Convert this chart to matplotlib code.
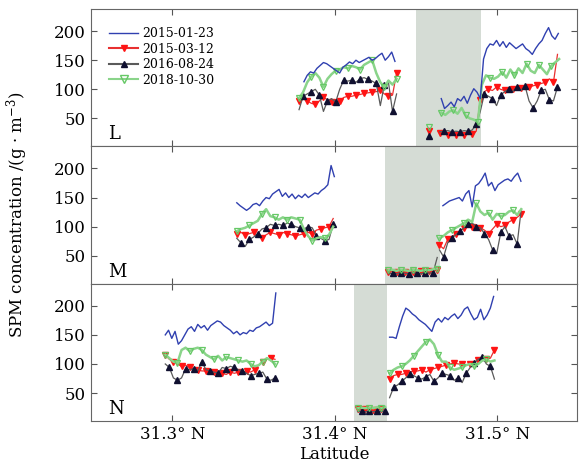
#!/usr/bin/env python

import numpy as np
import matplotlib
matplotlib.use("Agg")
import matplotlib.pyplot as plt

plt.rcParams["font.family"] = ["DejaVu Serif"]
plt.rcParams["mathtext.fontset"] = "dejavuserif"

panel_names = ["L", "M", "N"]
dates = ["2015-01-23", "2015-03-12", "2016-08-24", "2018-10-30"]
lat_ticks = [31.3, 31.4, 31.5]
spm_ticks = [50, 100, 150, 200]

# grey stretches (latitude)
shade_L = (31.450, 31.490)
shade_M = (31.431, 31.465)
shade_N = (31.412, 31.432)

# ---- section L ----
L1_blue_lat = (31.381, 31.437)
L1_blue = [113, 124, 130, 128, 136, 141, 146, 144, 140, 136, 132, 128, 138, 142, 147,
           144, 150, 146, 149, 152, 155, 150, 153, 158, 162, 150, 156, 164, 148]
L1_lat = (31.378, 31.438)
L1_red = [80, 84, 80, 76, 74, 80, 86, 82, 78, 76, 80, 86, 88, 88, 90, 91, 93, 94, 95, 96,
          98, 92, 88, 90, 128]
L1_black = [65, 88, 92, 96, 100, 90, 62, 80, 84, 78, 100, 116, 114, 116, 112, 118, 120,
            117, 114, 110, 72, 108, 112, 62, 92]
L1_green = [85, 95, 112, 122, 128, 120, 104, 118, 126, 132, 134, 138, 136, 140, 138, 134,
            142, 146, 150, 128, 112, 104, 115, 108, 118]

L_dot_lat = [31.458]
L_dot_red = [28]
L_dot_black = [20]
L_dot_green = [35]

L2_blue_lat = (31.4655, 31.5375)
L2_blue = [84, 67, 72, 78, 70, 84, 80, 88, 76, 90, 101, 95, 84, 152, 170, 178, 176, 184,
           174, 182, 172, 180, 175, 170, 174, 178, 170, 166, 160, 170, 178, 184, 196, 206,
           192, 186, 196]
L2_lat = (31.4645, 31.537)
L2_red = [25, 24, 22, 24, 22, 23, 21, 23, 24, 28, 82, 96, 100, 98, 104, 100, 98, 102, 100,
          104, 102, 106, 104, 106, 108, 110, 112, 118, 112, 160]
L2_black = [27, 28, 29, 27, 28, 27, 29, 28, 30, 40, 62, 92, 88, 84, 72, 90, 96, 100, 96,
            104, 98, 106, 80, 68, 80, 98, 100, 82, 80, 104]
L2_green_lat = (31.4655, 31.538)
L2_green = [60, 56, 62, 64, 58, 68, 55, 50, 48, 44, 108, 124, 120, 118, 122, 130, 120, 134,
            124, 136, 128, 144, 132, 128, 142, 134, 126, 140, 146, 152]

# ---- section M ----
M1_blue_lat = (31.3397, 31.3997)
M1_blue = [141, 136, 132, 128, 132, 138, 140, 136, 144, 150, 148, 156, 160, 164, 152, 158,
           150, 156, 148, 154, 150, 156, 150, 154, 158, 156, 162, 166, 172, 205, 186]
M1_lat = (31.3397, 31.399)
M1_red = [88, 90, 86, 88, 90, 84, 80, 86, 90, 88, 86, 90, 88, 86, 84, 86, 88, 90, 88, 94,
          96, 98, 100, 114]
M1_black = [80, 72, 66, 78, 82, 88, 96, 98, 104, 102, 104, 102, 106, 104, 100, 98, 96, 100,
            98, 84, 80, 76, 78, 104]
M1_green = [92, 96, 98, 102, 106, 110, 122, 130, 118, 116, 112, 116, 112, 116, 114, 112,
            96, 84, 76, 80, 82, 80, 86, 100]

M_mid_lat = (31.433, 31.463)
M_mid_red = [22, 23, 22, 24, 22, 23, 22, 24, 23, 22, 24, 23, 26]
M_mid_black = [19, 20, 19, 21, 20, 19, 21, 20, 19, 21, 20, 21, 47]
M_mid_green = [25, 26, 24, 26, 25, 24, 26, 25, 24, 26, 25, 27, 28]

M2_blue_lat = (31.4665, 31.5145)
M2_blue = [136, 140, 144, 146, 148, 150, 144, 156, 162, 134, 170, 174, 182, 192, 170, 176,
           162, 172, 176, 180, 182, 178, 186, 192, 178]
M2_lat = (31.4644, 31.5147)
M2_red = [68, 62, 78, 82, 88, 92, 98, 100, 100, 102, 98, 94, 88, 96, 104, 100, 102, 108,
          112, 116, 122]
M2_black = [60, 48, 72, 80, 86, 92, 98, 104, 106, 100, 98, 88, 78, 60, 54, 90, 100, 84, 86,
            70, 130]
M2_green = [80, 84, 90, 94, 98, 102, 106, 112, 108, 140, 126, 120, 124, 112, 122, 118, 120,
            126, 128, 120, 130]

# ---- section N ----
N1_blue_lat = (31.2957, 31.3637)
N1_blue = [150, 158, 144, 156, 134, 140, 150, 160, 164, 156, 168, 162, 166, 158, 166, 170,
           174, 172, 166, 162, 158, 152, 156, 150, 154, 152, 158, 156, 162, 164, 168, 172,
           166, 170, 222]
N1_lat = (31.2957, 31.3632)
N1_red = [116, 108, 104, 100, 96, 98, 94, 92, 90, 88, 88, 86, 86, 84, 84, 82, 86, 84, 86,
          84, 88, 86, 90, 98, 104, 108, 110, 108]
N1_black = [100, 94, 76, 72, 76, 92, 90, 92, 88, 104, 90, 88, 86, 84, 94, 92, 96, 94, 90,
            88, 84, 80, 82, 84, 86, 74, 72, 76]
N1_green = [116, 110, 104, 102, 124, 128, 122, 126, 128, 124, 116, 112, 108, 114, 106, 112,
            110, 108, 106, 104, 106, 100, 96, 98, 104, 110, 106, 100]

N_mid_lat = (31.414, 31.431)
N_mid_red = [22, 21, 23, 22, 21, 23, 22, 24]
N_mid_black = [18, 19, 18, 19, 18, 19, 18, 20]
N_mid_green = [24, 25, 24, 25, 24, 26, 24, 26]

N2_blue_lat = (31.4337, 31.4977)
N2_blue = [146, 146, 144, 164, 182, 196, 192, 186, 182, 176, 172, 168, 162, 156, 172, 178,
           172, 180, 176, 182, 186, 178, 184, 194, 198, 186, 176, 180, 194, 176, 184, 196, 216]
N2_lat = (31.4337, 31.4982)
N2_red = [74, 80, 82, 82, 84, 86, 88, 88, 90, 86, 90, 92, 94, 96, 98, 100, 102, 100, 100,
          98, 100, 104, 106, 110, 108, 110, 124]
N2_black = [42, 60, 64, 70, 76, 82, 80, 76, 74, 78, 82, 70, 76, 84, 82, 80, 72, 76, 68, 84,
            94, 102, 108, 112, 100, 96, 74]
N2_green = [84, 90, 94, 96, 100, 106, 114, 122, 130, 138, 142, 134, 116, 104, 104, 94, 90,
            92, 94, 98, 100, 96, 100, 106, 108, 104, 106]

STYLES = {
    "blue": dict(color="#3040b0", lw=1.0, zorder=4),
    "red": dict(color="#e83030", lw=0.9, marker="v", ms=4.5, mfc="#ff1414", mec="#ff1414",
                markevery=(0, 2), zorder=3),
    "black": dict(color="#5a5a5a", lw=0.9, marker="^", ms=4.5, mfc="#101030", mec="#101030",
                  markevery=(1, 2), zorder=3),
    "green": dict(color="#8ad48a", lw=1.8, marker="v", ms=5, mfc="none", mec="#66c866",
                  mew=0.9, markevery=(0, 3), zorder=3),
}


def track(ax, lat_range, values, style):
    lats = np.linspace(lat_range[0], lat_range[1], len(values))
    ax.plot(lats, values, **STYLES[style])


def dots(ax, lats, values, style):
    opts = {k: v for k, v in STYLES[style].items() if k not in ("markevery", "lw")}
    ax.plot(lats, values, ls="none", **opts)


def draw_panel(ax, name):
    if name == "L":
        ax.axvspan(*shade_L, color="#d5dcd5", lw=0, zorder=0)
        track(ax, L1_blue_lat, L1_blue, "blue")
        track(ax, L1_lat, L1_red, "red")
        track(ax, L1_lat, L1_black, "black")
        track(ax, L1_lat, L1_green, "green")
        dots(ax, L_dot_lat, L_dot_red, "red")
        dots(ax, L_dot_lat, L_dot_black, "black")
        dots(ax, L_dot_lat, L_dot_green, "green")
        track(ax, L2_blue_lat, L2_blue, "blue")
        track(ax, L2_lat, L2_red, "red")
        track(ax, L2_lat, L2_black, "black")
        track(ax, L2_green_lat, L2_green, "green")
    elif name == "M":
        ax.axvspan(*shade_M, color="#d5dcd5", lw=0, zorder=0)
        track(ax, M1_blue_lat, M1_blue, "blue")
        track(ax, M1_lat, M1_red, "red")
        track(ax, M1_lat, M1_black, "black")
        track(ax, M1_lat, M1_green, "green")
        track(ax, M_mid_lat, M_mid_red, "red")
        track(ax, M_mid_lat, M_mid_black, "black")
        track(ax, M_mid_lat, M_mid_green, "green")
        track(ax, M2_blue_lat, M2_blue, "blue")
        track(ax, M2_lat, M2_red, "red")
        track(ax, M2_lat, M2_black, "black")
        track(ax, M2_lat, M2_green, "green")
    else:
        ax.axvspan(*shade_N, color="#d5dcd5", lw=0, zorder=0)
        track(ax, N1_blue_lat, N1_blue, "blue")
        track(ax, N1_lat, N1_red, "red")
        track(ax, N1_lat, N1_black, "black")
        track(ax, N1_lat, N1_green, "green")
        track(ax, N_mid_lat, N_mid_red, "red")
        track(ax, N_mid_lat, N_mid_black, "black")
        track(ax, N_mid_lat, N_mid_green, "green")
        track(ax, N2_blue_lat, N2_blue, "blue")
        track(ax, N2_lat, N2_red, "red")
        track(ax, N2_lat, N2_black, "black")
        track(ax, N2_lat, N2_green, "green")

    ax.set_xlim(31.25, 31.549)
    ax.set_ylim(2, 238)
    ax.set_yticks(spm_ticks)
    ax.set_xticks(lat_ticks)
    ax.tick_params(direction="in", top=True, right=True, length=4, labelsize=12,
                   color="#555555")
    for side in ax.spines.values():
        side.set_color("#666666")
    ax.text(0.035, 0.05, name, transform=ax.transAxes, fontsize=13)


def main():
    fig = plt.figure(figsize=(5.79, 4.75), dpi=100)
    left, right = 91 / 579, 577 / 579
    top, bottom = 1 - 9 / 475, 1 - 421 / 475
    h = (top - bottom) / 3
    axes = []
    for i, name in enumerate(panel_names):
        ax = fig.add_axes([left, top - (i + 1) * h, right - left, h])
        draw_panel(ax, name)
        if i < 2:
            ax.set_xticklabels([])
        else:
            ax.set_xticklabels([f"{t:.1f}° N" for t in lat_ticks])
        axes.append(ax)

    handles = [
        plt.Line2D([], [], color=STYLES["blue"]["color"], lw=1.0),
        plt.Line2D([], [], color=STYLES["red"]["color"], marker="v", ms=5,
                   mfc="#ff1414", mec="#ff1414"),
        plt.Line2D([], [], color=STYLES["black"]["color"], marker="^", ms=5,
                   mfc="#101030", mec="#101030"),
        plt.Line2D([], [], color=STYLES["green"]["color"], marker="v", ms=5.5,
                   mfc="none", mec="#66c866"),
    ]
    axes[0].legend(handles, dates, loc="upper left", frameon=False, fontsize=9,
                   handlelength=2.3, labelspacing=0.2, borderaxespad=0.3,
                   handletextpad=0.3, bbox_to_anchor=(0.02, 0.93))

    axes[2].set_xlabel("Latitude", fontsize=12, labelpad=2)
    fig.text(0.03, (top + bottom) / 2, "SPM concentration /(g · m$^{-3}$)",
             rotation=90, va="center", ha="center", fontsize=12)
    fig.savefig("out.png", dpi=100)


if __name__ == "__main__":
    main()
